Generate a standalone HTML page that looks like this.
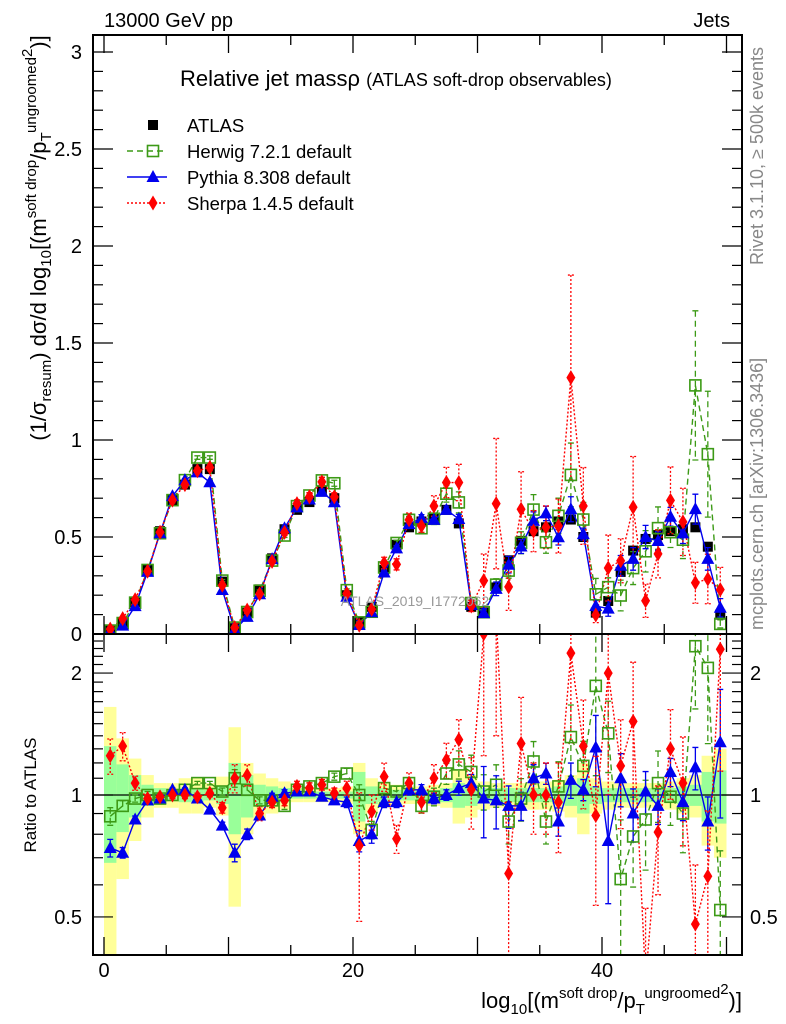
<!DOCTYPE html>
<html><head><meta charset="utf-8"><style>
html,body{margin:0;padding:0;background:#fff;width:786px;height:1024px;overflow:hidden;position:relative;}
svg{display:block;position:absolute;left:0;top:0;font-family:"Liberation Sans",sans-serif;overflow:hidden;}
</style></head><body>
<svg id="c" width="786" height="1024" viewBox="0 0 786 1024">
<defs>
<clipPath id="cm"><rect x="93" y="35" width="649" height="599"/></clipPath>
<clipPath id="cr"><rect x="93" y="634" width="649" height="321"/></clipPath>
</defs>
<g id="bands" clip-path="url(#cr)"></g>
<g id="mainplot" clip-path="url(#cm)"></g>
<g id="ratioplot" clip-path="url(#cr)"></g>
<g id="axes"></g>
<text x="104" y="27" font-size="20">13000 GeV pp</text>
<text x="730" y="27" font-size="20" text-anchor="end">Jets</text>
<text transform="translate(763,265) rotate(-90)" font-size="18" fill="#888">Rivet 3.1.10, ≥ 500k events</text>
<text transform="translate(763,630) rotate(-90)" font-size="18" fill="#888">mcplots.cern.ch [arXiv:1306.3436]</text>
<text x="180" y="86" font-size="22">Relative jet massρ <tspan font-size="18">(ATLAS soft-drop observables)</tspan></text>
<text x="415" y="606" font-size="14" fill="#999" text-anchor="middle">ATLAS_2019_I1772062</text>
<text transform="translate(46,238) rotate(-90)" font-size="22" text-anchor="middle">(1/σ<tspan font-size="15" dy="5">resum</tspan><tspan dy="-5">) dσ/d log</tspan><tspan font-size="15" dy="5">10</tspan><tspan dy="-5">[(m</tspan><tspan font-size="15" dy="-10">soft drop</tspan><tspan dy="10">/p</tspan><tspan font-size="15" dy="5">T</tspan><tspan font-size="15" dy="-15">ungroomed</tspan><tspan font-size="15" dy="-4">2</tspan><tspan dy="14">)]</tspan></text>
<text transform="translate(36,795) rotate(-90)" font-size="17" text-anchor="middle">Ratio to ATLAS</text>
<text x="742" y="1008" font-size="22" text-anchor="end">log<tspan font-size="15" dy="6">10</tspan><tspan dy="-6">[(m</tspan><tspan font-size="15" dy="-10">soft drop</tspan><tspan dy="10">/p</tspan><tspan font-size="15" dy="6">T</tspan><tspan font-size="15" dy="-16">ungroomed</tspan><tspan font-size="15" dy="-4">2</tspan><tspan dy="14">)]</tspan></text>
<g id="legend"></g>
</svg>
<script>
const bins = Array.from({length:50},(_,i)=>i+0.5);
const atlas = [0.02,0.06,0.165,0.33,0.53,0.69,0.77,0.85,0.85,0.27,0.03,0.11,0.23,0.39,0.54,0.64,0.68,0.74,0.70,0.20,
0.06,0.14,0.33,0.46,0.55,0.58,0.60,0.64,0.57,0.14,0.11,0.24,0.38,0.48,0.53,0.55,0.58,0.59,0.50,0.11,
0.17,0.32,0.43,0.49,0.51,0.53,0.54,0.55,0.45,0.10];
const bandTotal = [0.65,0.38,0.23,0.12,0.07,0.07,0.10,0.10,0.07,0.11,0.47,0.20,0.13,0.10,0.08,0.04,0.04,0.04,0.04,0.05,
0.20,0.10,0.07,0.06,0.05,0.05,0.06,0.07,0.15,0.12,0.08,0.07,0.07,0.07,0.08,0.08,0.09,0.12,0.20,0.10,
0.08,0.07,0.07,0.07,0.07,0.08,0.10,0.12,0.25,0.30];
const bandStat = [0.32,0.19,0.12,0.06,0.04,0.03,0.04,0.04,0.03,0.05,0.20,0.12,0.06,0.05,0.04,0.02,0.02,0.02,0.02,0.02,
0.14,0.05,0.04,0.03,0.03,0.03,0.03,0.04,0.07,0.06,0.04,0.04,0.04,0.04,0.04,0.04,0.05,0.06,0.10,0.05,
0.04,0.04,0.04,0.04,0.04,0.04,0.05,0.06,0.14,0.15];
const herwigRatio = [0.886,0.94,0.98,1.0,0.98,1.0,1.03,1.07,1.07,1.02,1.10,1.03,0.97,0.97,0.94,1.03,1.05,1.07,1.11,1.13,
1.0,0.82,1.04,1.02,1.07,0.94,0.99,1.13,1.19,1.14,1.02,1.06,0.86,0.98,1.21,0.86,1.05,1.39,1.18,1.86,
1.42,0.62,0.79,0.87,1.07,0.99,0.90,2.33,2.06,0.52];
const pythiaRatio = [0.74,0.72,0.87,0.97,0.98,1.03,1.03,0.98,0.92,0.84,0.72,0.80,0.89,0.99,1.01,1.02,1.02,0.99,0.97,0.96,
0.77,0.80,0.96,0.96,1.03,1.03,0.98,1.0,1.04,1.07,0.98,0.97,0.94,0.94,1.10,1.13,0.86,1.09,1.03,1.31,
0.77,1.10,0.90,1.02,0.94,1.14,0.96,1.17,0.86,1.35];
const sherpaRatio = [1.25,1.32,1.07,0.98,0.99,1.0,1.0,0.99,1.01,0.93,1.10,1.12,0.90,0.96,0.97,1.05,1.04,1.06,1.01,1.04,
0.75,0.91,1.11,0.78,1.07,0.96,1.10,1.22,1.37,1.03,2.5,2.8,0.64,1.34,1.0,1.0,0.96,2.24,1.32,0.89,
2.0,1.18,1.52,0.35,0.81,1.30,1.07,0.48,0.63,2.29];
const herwigErr = [0.05,0.03,0.02,0.02,0.01,0.01,0.01,0.01,0.01,0.02,0.05,0.03,0.02,0.02,0.02,0.02,0.02,0.02,0.02,0.03,
0.06,0.05,0.03,0.03,0.03,0.04,0.05,0.06,0.08,0.10,0.10,0.12,0.12,0.12,0.12,0.12,0.15,0.20,0.15,0.40,
0.20,0.40,0.25,0.25,0.20,0.15,0.20,0.30,0.35,0.40];
const pythiaErr = [0.05,0.03,0.02,0.02,0.01,0.01,0.01,0.01,0.01,0.02,0.05,0.03,0.02,0.02,0.02,0.02,0.02,0.02,0.02,0.03,
0.06,0.05,0.03,0.03,0.03,0.03,0.03,0.03,0.04,0.05,0.20,0.15,0.12,0.08,0.08,0.06,0.08,0.10,0.06,0.20,
0.30,0.15,0.15,0.12,0.10,0.08,0.10,0.12,0.15,0.35];
const sherpaErr = [0.10,0.08,0.04,0.02,0.02,0.02,0.02,0.02,0.02,0.03,0.08,0.06,0.04,0.03,0.03,0.03,0.03,0.03,0.03,0.04,
0.35,0.10,0.08,0.08,0.06,0.06,0.08,0.10,0.12,0.20,0.50,0.50,0.50,0.30,0.20,0.20,0.25,0.40,0.30,0.40,
0.50,0.30,0.40,0.50,0.30,0.25,0.30,0.40,0.45,0.50];
const mainTicks = [0,0.5,1,1.5,2,2.5,3];
const mainTickLabels = ["0","0.5","1","1.5","2","2.5","3"];
const ratioTicks = [0.5,1,2];
const ratioTickLabels = ["0.5","1","2"];
const xTicks = [0,20,40];
const xTickLabels = ["0","20","40"];

const NS="http://www.w3.org/2000/svg";
const X=v=>104+v*12.45;
const Y=v=>634-194*v;
const R=r=>795-405*Math.log10(Math.max(r,0.01));
function mk(parent,tag,attrs){const e=document.createElementNS(NS,tag);for(const k in attrs)e.setAttribute(k,attrs[k]);parent.appendChild(e);return e;}
const G=id=>document.getElementById(id);
const bandsG=G('bands'),mainG=G('mainplot'),ratioG=G('ratioplot'),axG=G('axes'),legG=G('legend');

bins.forEach((b,i)=>{
  let e=mk(bandsG,'rect',{x:X(b-0.5),width:12.45,y:R(1+bandTotal[i]),height:R(Math.max(1-bandTotal[i],0.01))-R(1+bandTotal[i]),fill:'#ffff99'});
  
  
  let g=mk(bandsG,'rect',{x:X(b-0.5),width:12.45,y:R(1+bandStat[i]),height:R(1-bandStat[i])-R(1+bandStat[i]),fill:'#99ff99'});
  
  
});
let one=mk(ratioG,'line',{x1:93,x2:742,y1:R(1),y2:R(1),stroke:'#000','stroke-width':1.2});



function marker(parent,type,cx,cy,name){
  let e;
  if(type==='sq') e=mk(parent,'rect',{x:cx-5,y:cy-5,width:10,height:10,fill:'#000'});
  else if(type==='osq') e=mk(parent,'rect',{x:cx-5.5,y:cy-5.5,width:11,height:11,fill:'none',stroke:'#3c9a16','stroke-width':1.6});
  else if(type==='tri') e=mk(parent,'polygon',{points:`${cx},${cy-7} ${cx-6.5},${cy+5} ${cx+6.5},${cy+5}`,fill:'#0000ee'});
  else e=mk(parent,'polygon',{points:`${cx},${cy-7.5} ${cx-4.5},${cy} ${cx},${cy+7.5} ${cx+4.5},${cy}`,fill:'#ff0000'});
  
  
  return e;
}
const series=[
  {name:'herwig',ratio:herwigRatio,err:herwigErr,color:'#3c9a16',dash:'6,4',w:1.4,m:'osq'},
  {name:'pythia',ratio:pythiaRatio,err:pythiaErr,color:'#0000ee',dash:'',w:1.4,m:'tri'},
  {name:'sherpa',ratio:sherpaRatio,err:sherpaErr,color:'#ff0000',dash:'2,2',w:1.4,m:'dia'}
];
bins.forEach((b,i)=>{marker(mainG,'sq',X(b),Y(atlas[i]),'atlas-point');});
series.forEach(s=>{
  const vals=atlas.map((a,i)=>a*s.ratio[i]);
  const pts=bins.map((b,i)=>X(b)+','+Y(vals[i])).join(' ');
  let l=mk(mainG,'polyline',{points:pts,fill:'none',stroke:s.color,'stroke-width':s.w,'stroke-dasharray':s.dash});
  
  
  const rp=bins.map((b,i)=>X(b)+','+R(s.ratio[i])).join(' ');
  let rl=mk(ratioG,'polyline',{points:rp,fill:'none',stroke:s.color,'stroke-width':s.w,'stroke-dasharray':s.dash});
  
  
  bins.forEach((b,i)=>{
    const v=vals[i],e=s.err[i]*v,x=X(b);
    let eb=mk(mainG,'path',{d:`M${x},${Y(v+e)}V${Y(v-e)}M${x-3},${Y(v+e)}h6M${x-3},${Y(v-e)}h6`,stroke:s.color,'stroke-width':1.3,'stroke-dasharray':s.dash,fill:'none'});
    
    
    const r=s.ratio[i],re=s.err[i]*r;
    let rb=mk(ratioG,'path',{d:`M${x},${R(r+re)}V${R(r-re)}M${x-3},${R(r+re)}h6M${x-3},${R(r-re)}h6`,stroke:s.color,'stroke-width':1.3,'stroke-dasharray':s.dash,fill:'none'});
    
    
  });
});
series.forEach(s=>{
  bins.forEach((b,i)=>{
    marker(mainG,s.m,X(b),Y(atlas[i]*s.ratio[i]),s.name+'-point');
    marker(ratioG,s.m,X(b),R(s.ratio[i]),s.name+'-ratio-point');
  });
});

[[35,599,'main-frame'],[634,321,'ratio-frame']].forEach(f=>{
  let r=mk(axG,'rect',{x:93,y:f[0],width:649,height:f[1],fill:'none',stroke:'#000','stroke-width':2});
  
  
});
for(let k=0;k<=30;k++){const v=k/10,y=Y(v),L=(k%5===0)?20:10;
  mk(axG,'line',{x1:93,x2:93+L,y1:y,y2:y,stroke:'#000','stroke-width':1.2});
  mk(axG,'line',{x1:742,x2:742-L,y1:y,y2:y,stroke:'#000','stroke-width':1.2});}
mainTicks.forEach((v,i)=>{let t=mk(axG,'text',{x:82,y:Y(v)+7,'font-size':20,'text-anchor':'end'});t.textContent=mainTickLabels[i];
  
  });
for(let r=0.4;r<=2.51;r+=0.1){const y=R(r);if(y<634||y>955)continue;const major=[0.5,1,2].some(m=>Math.abs(m-r)<1e-6);const L=major?20:10;
  mk(axG,'line',{x1:93,x2:93+L,y1:y,y2:y,stroke:'#000','stroke-width':1.2});
  mk(axG,'line',{x1:742,x2:742-L,y1:y,y2:y,stroke:'#000','stroke-width':1.2});}
ratioTicks.forEach((v,i)=>{
  let t=mk(axG,'text',{x:82,y:R(v)+7,'font-size':20,'text-anchor':'end'});t.textContent=ratioTickLabels[i];
  
  
  let t2=mk(axG,'text',{x:750,y:R(v)+7,'font-size':20});t2.textContent=ratioTickLabels[i];
  
  });
for(let v=0;v<=50;v+=5){const x=X(v),L=(v%10===0)?18:10;
  [[634,-1],[35,1],[955,-1],[634,1]].forEach(p=>mk(axG,'line',{x1:x,x2:x,y1:p[0],y2:p[0]+p[1]*L,stroke:'#000','stroke-width':1.3}));}
xTicks.forEach((v,i)=>{let t=mk(axG,'text',{x:X(v),y:977,'font-size':20,'text-anchor':'middle'});t.textContent=xTickLabels[i];
  
  });

const legItems=[['sq','ATLAS','#000',''],['osq','Herwig 7.2.1 default','#3c9a16','6,4'],['tri','Pythia 8.308 default','#0000ee',''],['dia','Sherpa 1.4.5 default','#ff0000','2,2']];
legItems.forEach((it,i)=>{
  const y=125+i*26;
  const g=mk(legG,'g',{});
  
  
  if(i>0) mk(g,'line',{x1:127,x2:167,y1:y,y2:y,stroke:it[2],'stroke-width':1.4,'stroke-dasharray':it[3]});
  marker(g,it[0],153,y,'legend-marker');
  const t=mk(g,'text',{x:187,y:y+7,'font-size':18.5});t.textContent=it[1];
});
</script>
</body></html>
